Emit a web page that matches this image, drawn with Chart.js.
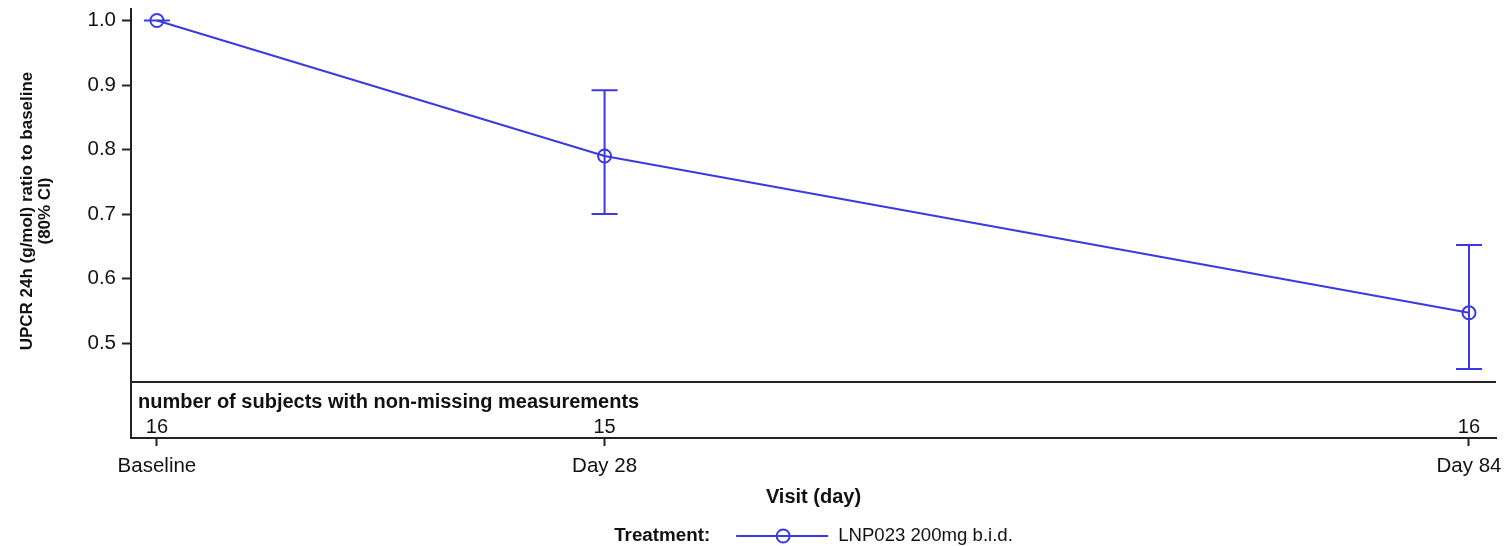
<!DOCTYPE html>
<html>
<head>
<meta charset="utf-8">
<script src="https://cdn.jsdelivr.net/npm/chart.js@4"></script>
<style>
  body { margin: 0; background: #fff; }
  #wrap { width: 1506px; height: 546px; }
</style>
</head>
<body>
<div id="wrap"><canvas id="grafico"></canvas></div>
<script>
// Datos
const visitLabels = ['Baseline', 'Day 28', 'Day 84']
const visitDays = [-1, 28, 84]
const ratio = [1.0, 0.79, 0.547]
const ciLower = [1.0, 0.70, 0.460]
const ciUpper = [1.0, 0.892, 0.652]
const nSubjects = [16, 15, 16]
const yTicks = [0.5, 0.6, 0.7, 0.8, 0.9, 1.0]

const azul = '#3a3ae0'
const negro = '#222'
const fuente = 'Liberation Sans'

// Barras de error, tabla de n y leyenda dibujadas a mano
const extras = {
  id: 'extras',
  afterDatasetsDraw(chart) {
    const { ctx, chartArea, scales } = chart
    const x = scales.x, y = scales.y
    ctx.save()

    // error bars
    ctx.strokeStyle = azul
    ctx.lineWidth = 2
    visitDays.forEach((d, i) => {
      const px = x.getPixelForValue(d)
      const top = y.getPixelForValue(ciUpper[i])
      const bot = y.getPixelForValue(ciLower[i])
      ctx.beginPath()
      ctx.moveTo(px, top); ctx.lineTo(px, bot)
      ctx.moveTo(px - 13, top); ctx.lineTo(px + 13, top)
      ctx.moveTo(px - 13, bot); ctx.lineTo(px + 13, bot)
      ctx.stroke()
    })

    // separador de la tabla
    const sep = y.getPixelForValue(0.4396)
    ctx.strokeStyle = negro
    ctx.lineWidth = 2
    ctx.beginPath()
    ctx.moveTo(chartArea.left, sep); ctx.lineTo(chartArea.right, sep)
    ctx.stroke()

    ctx.fillStyle = '#111'
    ctx.textBaseline = 'middle'
    ctx.font = 'bold 20px "' + fuente + '"'
    ctx.textAlign = 'left'
    ctx.fillText('number of subjects with non-missing measurements', chartArea.left + 7, sep + 20)

    ctx.font = '20px "' + fuente + '"'
    ctx.textAlign = 'center'
    visitDays.forEach((d, i) => {
      ctx.fillText(String(nSubjects[i]), x.getPixelForValue(d), chartArea.bottom - 11)
    })

    // titulo eje x
    const cx = (chartArea.left + chartArea.right) / 2
    ctx.font = 'bold 20px "' + fuente + '"'
    ctx.fillText('Visit (day)', cx, 497)

    // titulo eje y (rotado)
    ctx.save()
    ctx.translate(27, 211)
    ctx.rotate(-Math.PI / 2)
    ctx.font = 'bold 17px "' + fuente + '"'
    ctx.fillText('UPCR 24h (g/mol) ratio to baseline', 0, 0)
    ctx.fillText('(80% CI)', 0, 18)
    ctx.restore()

    // leyenda
    const ly = 536
    ctx.font = 'bold 18.8px "' + fuente + '"'
    const t1 = 'Treatment:'
    const w1 = ctx.measureText(t1).width
    ctx.font = '18.6px "' + fuente + '"'
    const t2 = 'LNP023 200mg b.i.d.'
    const w2 = ctx.measureText(t2).width
    const total = w1 + 26 + 92 + 10 + w2
    let lx = cx - total / 2
    ctx.textAlign = 'left'
    ctx.font = 'bold 18.8px "' + fuente + '"'
    ctx.fillText(t1, lx, ly)
    lx += w1 + 26
    ctx.strokeStyle = azul
    ctx.lineWidth = 2
    ctx.beginPath()
    ctx.moveTo(lx, ly); ctx.lineTo(lx + 92, ly)
    ctx.stroke()
    ctx.beginPath()
    ctx.arc(lx + 47, ly, 6.5, 0, Math.PI * 2)
    ctx.stroke()
    lx += 92 + 10
    ctx.font = '18.6px "' + fuente + '"'
    ctx.fillText(t2, lx, ly)

    ctx.restore()
  }
}

let chart
window.addEventListener('load', () => {
  chart = new Chart(document.getElementById('grafico'), {
    type: 'line',
    data: {
      datasets: [{
        label: 'LNP023 200mg b.i.d.',
        data: visitDays.map((d, i) => ({ x: d, y: ratio[i] })),
        borderColor: azul,
        backgroundColor: 'rgba(0,0,0,0)',
        borderWidth: 2,
        pointRadius: 6.5,
        pointBorderWidth: 2,
        pointBackgroundColor: 'rgba(0,0,0,0)',
        pointBorderColor: azul,
        tension: 0
      }]
    },
    options: {
      responsive: true,
      maintainAspectRatio: false,
      animation: false,
      layout: { padding: { left: 0, right: 10, top: 8, bottom: 0 } },
      plugins: { legend: { display: false }, tooltip: { enabled: false } },
      scales: {
        x: {
          type: 'linear',
          min: -2.68,
          max: 85.75,
          afterBuildTicks: (s) => { s.ticks = visitDays.map(v => ({ value: v })) },
          afterFit: (s) => { s.height = 108; s.paddingLeft = 0; s.paddingRight = 0 },
          grid: { drawOnChartArea: false, drawTicks: true, tickLength: 8, tickColor: negro, tickWidth: 2 },
          border: { color: negro, width: 2 },
          ticks: {
            color: '#111',
            font: { family: fuente, size: 20.5 },
            padding: 8,
            maxRotation: 0,
            autoSkip: false,
            callback: (v) => visitLabels[visitDays.indexOf(v)]
          }
        },
        y: {
          min: 0.353,
          max: 1.0186,
          afterBuildTicks: (s) => { s.ticks = yTicks.map(v => ({ value: v })) },
          afterFit: (s) => { s.width = 131; s.paddingTop = 0; s.paddingBottom = 0 },
          grid: { drawOnChartArea: false, drawTicks: true, tickLength: 9, tickColor: negro, tickWidth: 2 },
          border: { color: negro, width: 2 },
          ticks: {
            color: '#111',
            font: { family: fuente, size: 20.5 },
            padding: 6,
            callback: (v) => v.toFixed(1)
          }
        }
      }
    },
    plugins: [extras]
  })
})
</script>
</body>
</html>
